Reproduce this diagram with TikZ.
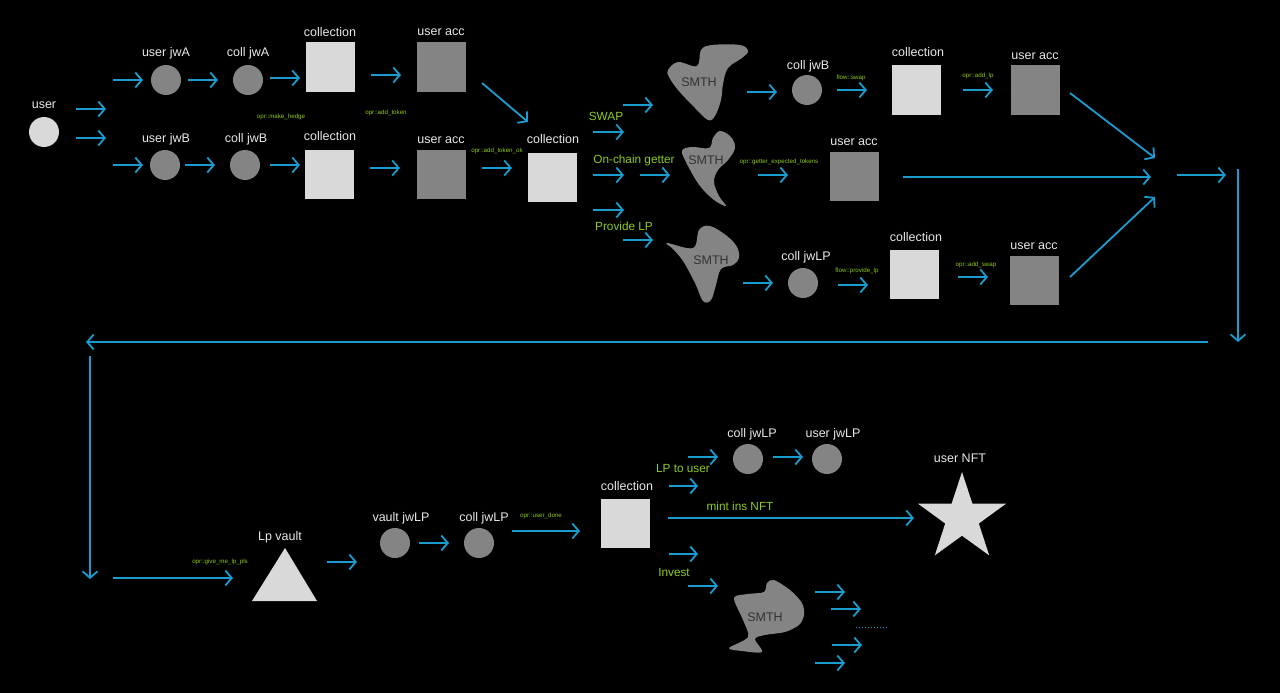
\documentclass[tikz,border=0pt]{standalone}
\usepackage{fontspec}
\setmainfont{Liberation Sans}
\usetikzlibrary{arrows.meta}
\definecolor{bgc}{HTML}{000000}
\definecolor{arrc}{HTML}{1A9CCF}
\definecolor{lightg}{HTML}{D9D9D9}
\definecolor{darkg}{HTML}{848484}
\definecolor{labelc}{HTML}{E8E8E8}
\definecolor{greenc}{HTML}{8FCB1C}
\definecolor{smthc}{HTML}{333333}
\tikzset{
  lsq/.style={rectangle, fill=lightg, minimum size=49pt, inner sep=0pt},
  dsq/.style={rectangle, fill=darkg, minimum size=49pt, inner sep=0pt},
  circ/.style={circle, fill=darkg, minimum size=30pt, inner sep=0pt},
  ucirc/.style={circle, fill=lightg, minimum size=30pt, inner sep=0pt},
  lbl/.style={text=labelc, font=\fontsize{12.5}{14}\selectfont, inner sep=0pt},
  glbl/.style={text=greenc, font=\fontsize{6.2}{7}\selectfont, inner sep=0pt},
  gbig/.style={text=greenc, font=\fontsize{11.8}{13}\selectfont, inner sep=0pt},
  smthtxt/.style={text=smthc, font=\fontsize{12.5}{14}\selectfont, inner sep=0pt},
  blob/.style={fill=darkg},
  arr/.style={draw=arrc, line width=1.8pt, -{Straight Barb[length=6.5pt,width=15pt,line width=1.8pt]}},
  plainline/.style={draw=arrc, line width=1.8pt}
}
\newcommand{\myarr}[4]{\draw[arr] (#1,#2) -- (#3,#4);}
\begin{document}
\begin{tikzpicture}[x=1pt,y=-1pt]
\fill[bgc] (0,0) rectangle (1280,693);
\useasboundingbox (0,0) rectangle (1280,693);

% ---------- top left ----------
\node[ucirc] (user) at (44,132) {};
\node[lbl] (userl) at (44,105) {user};
\myarr{76}{109}{106}{109}
\myarr{76}{138}{106}{138}

\node[circ] (ujwA) at (166,80) {};
\node[lbl] at (166,53) {user jwA};
\node[circ] (cjwA) at (248,80) {};
\node[lbl] at (248,53) {coll jwA};
\node[lsq] (colA) at (330,67) {};
\node[lbl] at (330,32) {collection};
\node[dsq] (uaccA) at (441,67) {};
\node[lbl] at (441,32) {user acc};
\myarr{113}{80}{143}{80}
\myarr{188}{80}{218}{80}
\myarr{270}{78}{300}{78}
\myarr{371}{75}{401}{75}
\node[glbl] at (281,117) {opr::make\_hedge};
\node[glbl] at (386,113) {opr::add\_token};

\node[circ] (ujwB) at (165,165) {};
\node[lbl] at (166,139) {user jwB};
\node[circ] (cjwB) at (245,165) {};
\node[lbl] at (246,139) {coll jwB};
\node[lsq] (colB) at (329,174) {};
\node[lbl] at (330,136) {collection};
\node[dsq] (uaccB) at (441,174) {};
\node[lbl] at (441,140) {user acc};
\myarr{113}{165}{143}{165}
\myarr{185}{165}{215}{165}
\myarr{270}{165}{300}{165}
\myarr{370}{168}{400}{168}
\myarr{482}{168}{512}{168}
\node[glbl] at (497,151) {opr::add\_token\_ok};
\myarr{482}{83}{528}{122}

\node[lsq] (colC) at (552,177) {};
\node[lbl] at (553,139) {collection};

% ---------- branches ----------
\myarr{593}{132}{624}{132}
\myarr{623}{105}{653}{105}
\node[gbig] at (606,116) {SWAP};
\myarr{593}{175}{624}{175}
\myarr{640}{175}{670}{175}
\node[gbig] at (634,160) {On-chain getter};
\myarr{593}{210}{624}{210}
\myarr{623}{240}{653}{240}
\node[gbig] at (624,226) {Provide LP};

% blob 1
\fill[blob] plot[smooth cycle, tension=0.6] coordinates {(668,70) (678,62) (697,66) (701,50) (712,45) (740,45) (748,51) (742,58) (728,68) (723,84) (721,100) (715,116) (708,120) (695,108) (678,90) (669,77)};
\node[smthtxt] (smth1) at (699,82) {SMTH};
\myarr{747}{92}{777}{92}
\node[circ] (cjwB2) at (807,90) {};
\node[lbl] at (808,66) {coll jwB};
\node[glbl] at (851,78) {flow::swap};
\myarr{837}{90}{867}{90}
\node[lsq] (colD) at (916,90) {};
\node[lbl] at (918,52) {collection};
\node[glbl] at (978,76) {opr::add\_lp};
\myarr{963}{90}{993}{90}
\node[dsq] (uaccD) at (1035,90) {};
\node[lbl] at (1035,56) {user acc};
\myarr{1070}{93}{1155}{158}

% blob 2
\fill[blob] plot[smooth cycle, tension=0.6] coordinates {(720,131) (731,137) (735,148) (728,160) (718,170) (714,182) (719,196) (726,206) (714,200) (700,186) (688,166) (682,151) (692,147) (709,148) (713,138)};
\node[smthtxt] (smth2) at (706,160) {SMTH};
\node[glbl] at (779,162) {opr::getter\_expected\_tokens};
\myarr{758}{175}{788}{175}
\node[dsq] (uaccE) at (854,176) {};
\node[lbl] at (854,142) {user acc};
\myarr{903}{177}{1151}{177}
\myarr{1177}{175}{1226}{175}

% blob 3
\fill[blob] plot[smooth cycle, tension=0.6] coordinates {(667,243) (693,248) (699,230) (710,226) (727,236) (737,247) (739,258) (733,265) (721,269) (716,285) (711,300) (703,301) (695,283) (683,261) (673,249)};
\node[smthtxt] (smth3) at (711,260) {SMTH};
\myarr{743}{283}{773}{283}
\node[circ] (cjwLP) at (803,283) {};
\node[lbl] at (806,257) {coll jwLP};
\node[glbl] at (857,271) {flow::provide\_lp};
\myarr{838}{285}{868}{285}
\node[lsq] (colF) at (914,274) {};
\node[lbl] at (916,237) {collection};
\node[glbl] at (976,265) {opr::add\_swap};
\myarr{958}{277}{988}{277}
\node[dsq] (uaccF) at (1034,280) {};
\node[lbl] at (1034,246) {user acc};
\myarr{1070}{277}{1155}{197}

% ---------- return path ----------
\myarr{1238}{169}{1238}{342}
\myarr{1208}{342}{86}{342}
\myarr{90}{356}{90}{579}

% ---------- bottom ----------
\myarr{113}{578}{233}{578}
\node[glbl] at (220,562) {opr::give\_me\_lp\_pls};
\fill[lightg] (252,601) -- (317,601) -- (285,548) -- cycle;
\node[lbl] (lpv) at (280,537) {Lp vault};
\myarr{327}{562}{357}{562}
\node[circ] (vjwLP) at (395,543) {};
\node[lbl] at (401,518) {vault jwLP};
\myarr{419}{543}{449}{543}
\node[circ] (cjwLP2) at (479,543) {};
\node[lbl] at (484,518) {coll jwLP};
\node[glbl] at (541,516) {opr::user\_done};
\myarr{512}{531}{580}{531}
\node[lsq] (colG) at (625,523) {};
\node[lbl] at (627,486) {collection};

\myarr{688}{457}{718}{457}
\node[circ] (cjwLP3) at (748,459) {};
\node[lbl] at (752,434) {coll jwLP};
\myarr{773}{457}{803}{457}
\node[circ] (ujwLP) at (827,459) {};
\node[lbl] at (833,434) {user jwLP};
\node[gbig] at (683,468) {LP to user};
\myarr{669}{486}{698}{486}
\node[gbig] at (740,506) {mint ins NFT};
\myarr{668}{518}{914}{518}
\fill[lightg] plot coordinates {(962,472) (972.4,503.7) (1006.0,503.7) (978.8,523.5) (989.2,555.4) (962,535.7) (934.8,555.4) (945.2,523.5) (918.0,503.7) (951.6,503.7)} -- cycle;
\node[lbl] (unft) at (960,458) {user NFT};
\myarr{669}{554}{698}{554}
\node[gbig] at (674,572) {Invest};
\myarr{688}{586}{718}{586}

% blob 4
\fill[blob] plot[smooth cycle, tension=0.5] coordinates {(734,598) (748,594) (764,592) (767,583) (774,580) (790,590) (802,603) (804,615) (799,625) (785,632) (765,635) (755,639) (762,652) (742,651) (729,648) (748,637) (743,620)};
\node[smthtxt] (smth4) at (765,617) {SMTH};
\myarr{815}{592}{845}{592}
\myarr{831}{609}{861}{609}
\draw[arrc, line width=1pt, dotted] (856,627) -- (887,627);
\myarr{832}{645}{862}{645}
\myarr{815}{663}{845}{663}
\end{tikzpicture}
\end{document}
